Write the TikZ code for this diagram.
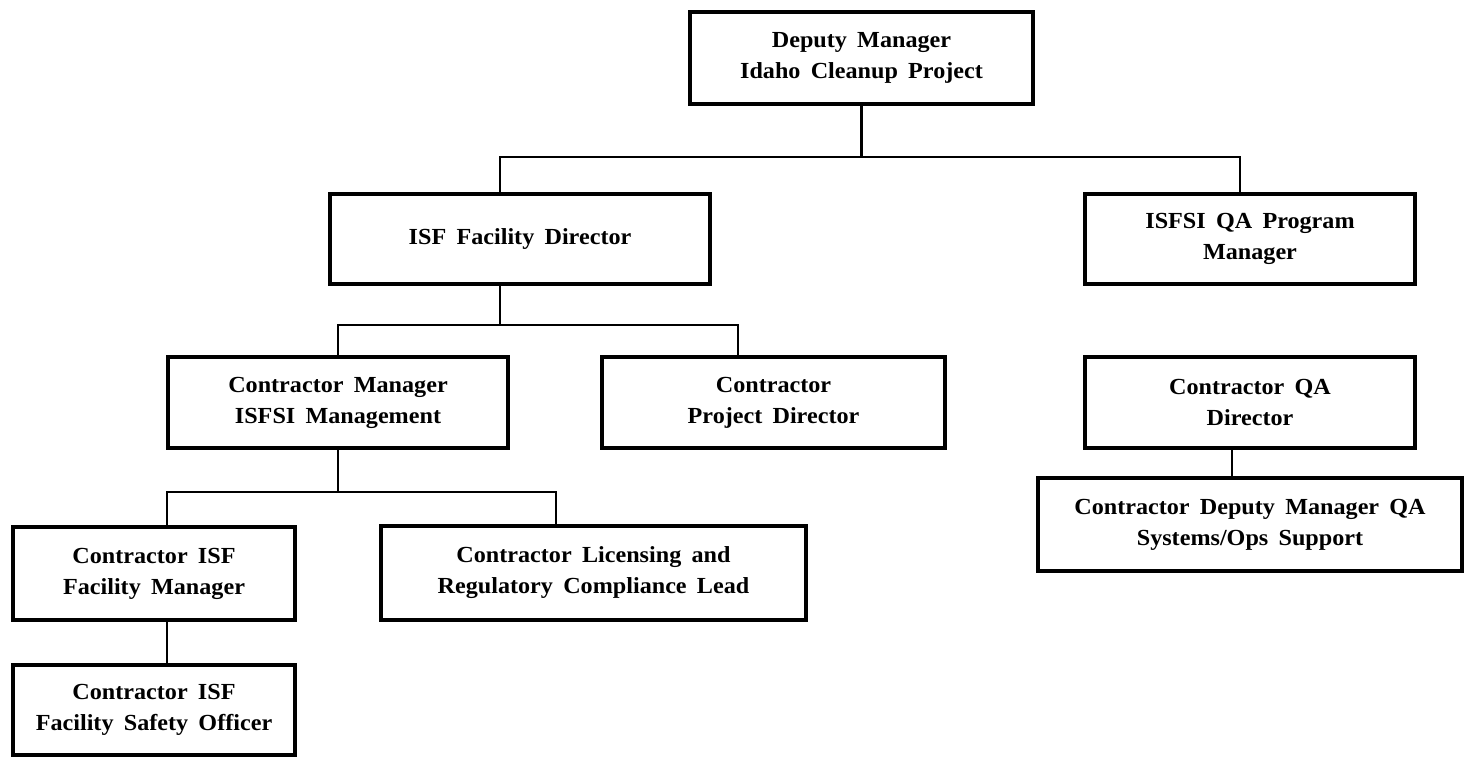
\documentclass[tikz,border=0pt]{standalone}
\usepackage{fontspec}
\setmainfont{Liberation Serif}[FakeStretch=1.05, WordSpace=1.7]
\begin{document}
\begin{tikzpicture}[x=1pt,y=-1pt,
  orgbox/.style={draw, line width=4pt, inner sep=0pt, align=center,
    font=\bfseries\fontsize{23}{31}\selectfont},
  conn/.style={line width=2.7pt}]
\useasboundingbox (0,0) rectangle (1466,757);
\node[orgbox, minimum width=343, minimum height=92] (top) at (861.5,58) {Deputy Manager\\Idaho Cleanup Project};
\node[orgbox, minimum width=380, minimum height=90] (isf) at (520,239) {ISF Facility Director};
\node[orgbox, minimum width=330, minimum height=90] (qapm) at (1250,239) {ISFSI QA Program\\Manager};
\node[orgbox, minimum width=340, minimum height=91] (cm) at (338,402.5) {Contractor Manager\\ISFSI Management};
\node[orgbox, minimum width=343, minimum height=91] (pd) at (773.5,402.5) {Contractor\\Project Director};
\node[orgbox, minimum width=330, minimum height=91] (qad) at (1250,402.5) {Contractor QA\\Director};
\node[orgbox, minimum width=424, minimum height=93] (dep) at (1250,524.5) {Contractor Deputy Manager QA\\Systems/Ops Support};
\node[orgbox, minimum width=282, minimum height=93] (fm) at (154,573.5) {Contractor ISF\\Facility Manager};
\node[orgbox, minimum width=425, minimum height=94] (lic) at (593.5,573) {Contractor Licensing and\\Regulatory Compliance Lead};
\node[orgbox, minimum width=282, minimum height=90] (so) at (154,710) {Contractor ISF\\Facility Safety Officer};
\coordinate (j1) at (861.5,157);
\coordinate (j2) at (500,325);
\coordinate (j3) at (338,492);
\coordinate (isfx) at (500,0);
\coordinate (pdx) at (738,0);
\coordinate (qapx) at (1240,0);
\coordinate (fmx) at (167,0);
\coordinate (licx) at (556,0);
\coordinate (qax) at (1232,0);
\draw[conn] (top.south) -- (j1);
\draw[conn] (isfx |- isf.north) -- (isfx |- j1) -- (qapx |- j1) -- (qapx |- qapm.north);
\draw[conn] (isfx |- isf.south) -- (j2);
\draw[conn] (cm.north) -- (cm.north |- j2) -- (pdx |- j2) -- (pdx |- pd.north);
\draw[conn] (cm.south) -- (j3);
\draw[conn] (fmx |- fm.north) -- (fmx |- j3) -- (licx |- j3) -- (licx |- lic.north);
\draw[conn] (fmx |- fm.south) -- (fmx |- so.north);
\draw[conn] (qax |- qad.south) -- (qax |- dep.north);
\end{tikzpicture}
\end{document}
